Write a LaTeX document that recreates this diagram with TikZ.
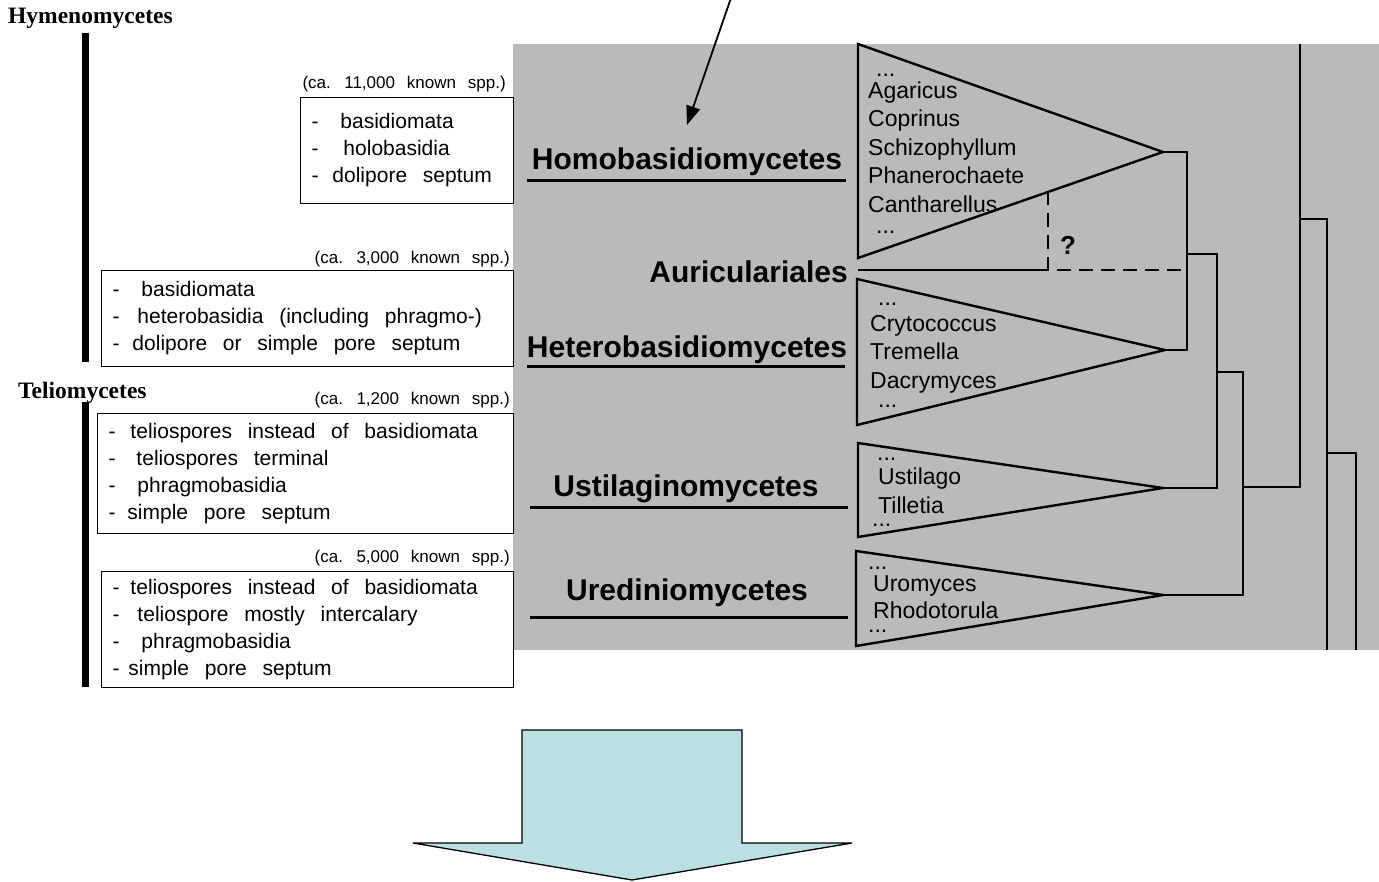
\documentclass[tikz,border=0pt]{standalone}
\usepackage{fontspec}
\setmainfont{Liberation Sans}
\newfontfamily\serifhead{Liberation Serif}
\usetikzlibrary{arrows.meta, positioning, calc}
\definecolor{panelgray}{RGB}{186,186,186}
\definecolor{arrowblue}{RGB}{186,224,227}
\newcommand{\itemdash}[1]{\makebox[#1][l]{-}}

\begin{document}
\begin{tikzpicture}[
    x=1pt, y=-1pt,
    traitbox/.style={draw, line width=1pt, fill=white, anchor=north west, align=left, inner xsep=11pt, inner ysep=0pt, font=\fontsize{21}{27}\selectfont, execute at begin node={\spaceskip=0.75em\relax}},
    sppcount/.style={inner sep=0pt, font={\fontsize{17}{20}\selectfont\spaceskip=0.7em\relax}},
    headfont/.style={inner sep=0pt, anchor=base west, font=\serifhead\bfseries\fontsize{23.5}{28}\selectfont},
    classname/.style={inner sep=0pt, anchor=base, font=\bfseries\fontsize{30}{36}\selectfont},
    genus/.style={inner sep=0pt, anchor=north west, align=left, font=\fontsize{23}{28.5}\selectfont},
    clade/.style={line width=2.4pt, line join=miter},
    treeline/.style={line width=2.6pt},
    unsure/.style={line width=2.6pt, dash pattern=on 14pt off 8pt},
    uline/.style={line width=3pt},
    sidebar/.style={line width=7pt},
    pointer/.style={-{Triangle[length=19pt,width=14pt]}, line width=1.8pt},
    bigarrow/.style={draw, line width=1.3pt, fill=arrowblue, line join=miter}
]
\useasboundingbox (0,0) rectangle (1379,882);

\fill[panelgray] (513,44) rectangle (1379,650);

% arrow pointing into the panel
\coordinate (from) at (731,-2);
\coordinate (aim) at (687,125);
\draw[pointer] (from) -- (aim);

% left column
\node[headfont] (hymeno) at (8,24) {Hymenomycetes};
\node[headfont] (telio) at (18,399) {Teliomycetes};
\draw[sidebar] (85,33) -- (85,362);
\draw[sidebar] (85,402) -- (85,687);

\node[traitbox, text width=191pt, minimum height=106pt] (boxA) at (300,97)
    {\itemdash{29pt}basidiomata\\\itemdash{32pt}holobasidia\\\itemdash{21pt}dolipore septum};
\node[traitbox, text width=390pt, minimum height=96pt] (boxB) at (101,270)
    {\itemdash{29pt}basidiomata\\\itemdash{25pt}heterobasidia (including phragmo-)\\\itemdash{20pt}dolipore or simple pore septum};
\node[traitbox, text width=394pt, minimum height=120pt] (boxC) at (97,413)
    {\itemdash{22pt}teliospores instead of basidiomata\\\itemdash{28pt}teliospores terminal\\\itemdash{29pt}phragmobasidia\\\itemdash{19pt}simple pore septum};
\node[traitbox, text width=390pt, minimum height=116pt] (boxD) at (101,571)
    {\itemdash{18pt}teliospores instead of basidiomata\\\itemdash{25pt}teliospore mostly intercalary\\\itemdash{29pt}phragmobasidia\\\itemdash{16pt}simple pore septum};

\node[sppcount, above left=5pt and 8pt of boxA.north east] (sppA) {(ca. 11,000 known spp.)};
\node[sppcount, above left=3pt and 4pt of boxB.north east] (sppB) {(ca. 3,000 known spp.)};
\node[sppcount, above left=5pt and 4pt of boxC.north east] (sppC) {(ca. 1,200 known spp.)};
\node[sppcount, above left=5pt and 4pt of boxD.north east] (sppD) {(ca. 5,000 known spp.)};

% class names
\node[classname] (homo) at (687,170) {Homobasidiomycetes};
\node[classname, anchor=base east] (auri) at (848,283) {Auriculariales};
\node[classname] (hetero) at (687,358) {Heterobasidiomycetes};
\node[classname] (ustil) at (686,496) {Ustilaginomycetes};
\node[classname] (uredi) at (687,600) {Urediniomycetes};
\draw[uline] (527,181) -- (846,181);
\draw[uline] (527,367) -- (845,367);
\draw[uline] (530,507) -- (848,507);
\draw[uline] (530,617) -- (848,617);

% collapsed clades
\draw[clade] (858,44) -- (1163,152) coordinate (tH) -- (858,258) -- cycle;
\draw[clade] (857,279) -- (1165,350) coordinate (tE) -- (857,425) -- cycle;
\draw[clade] (858,443) -- (1163,488) coordinate (tU) -- (858,537) -- cycle;
\draw[clade] (856,551) -- (1163,595) coordinate (tR) -- (856,646) -- cycle;

\node[genus] (gH) at (868,74) {\hspace{8pt}...\\[-7pt]Agaricus\\Coprinus\\Schizophyllum\\Phanerochaete\\Cantharellus\\[-7pt]\hspace{8pt}...};
\node[genus] (gE) at (870,303) {\hspace{8pt}...\\[-3pt]Crytococcus\\Tremella\\Dacrymyces\\[-9pt]\hspace{8pt}...};
\node[genus] (gU) at (872,458) {\hspace{5pt}...\\[-4.5pt]\hspace{6pt}Ustilago\\\hspace{6pt}Tilletia\\[-15pt]...};
\node[genus] (gR) at (868,567) {...\\[-6.5pt]\hspace{5pt}Uromyces\\[-1.5pt]\hspace{5pt}Rhodotorula\\[-14.5pt]...};

% Auriculariales, uncertain placement
\coordinate (aStart) at (858,270);
\coordinate (qTop) at (1048,191);
\coordinate (qCorner) at (1048,270);
\coordinate (qJoin) at (1187,270);
\draw[treeline] (aStart) -- (qCorner);
\draw[unsure] (qTop) -- (qCorner) -- (qJoin);
\node[inner sep=0pt, font=\bfseries\fontsize{26}{30}\selectfont] (query) at (1068,245) {?};

% tree
\coordinate (n1) at (1187,254);
\coordinate (n2) at (1217,372);
\coordinate (n3) at (1243,487);
\coordinate (n4) at (1300,219);
\coordinate (n5) at (1327,453);
\coordinate (topEnd) at (1300,44);
\coordinate (endA) at (1327,650);
\coordinate (endB) at (1356,650);
\draw[treeline] (tH) -| (n1) |- (tE);
\draw[treeline] (n1) -| (n2) |- (tU);
\draw[treeline] (n2) -| (n3) |- (tR);
\draw[treeline] (n3) -| (topEnd);
\draw[treeline] (n4) -| (endA);
\draw[treeline] (n5) -| (endB);

% block arrow
\draw[bigarrow] (522,730) -- (742,730) -- (742,843) -- (852,843) -- (632,880) -- (413,843) -- (522,843) -- cycle;

\end{tikzpicture}
\end{document}
